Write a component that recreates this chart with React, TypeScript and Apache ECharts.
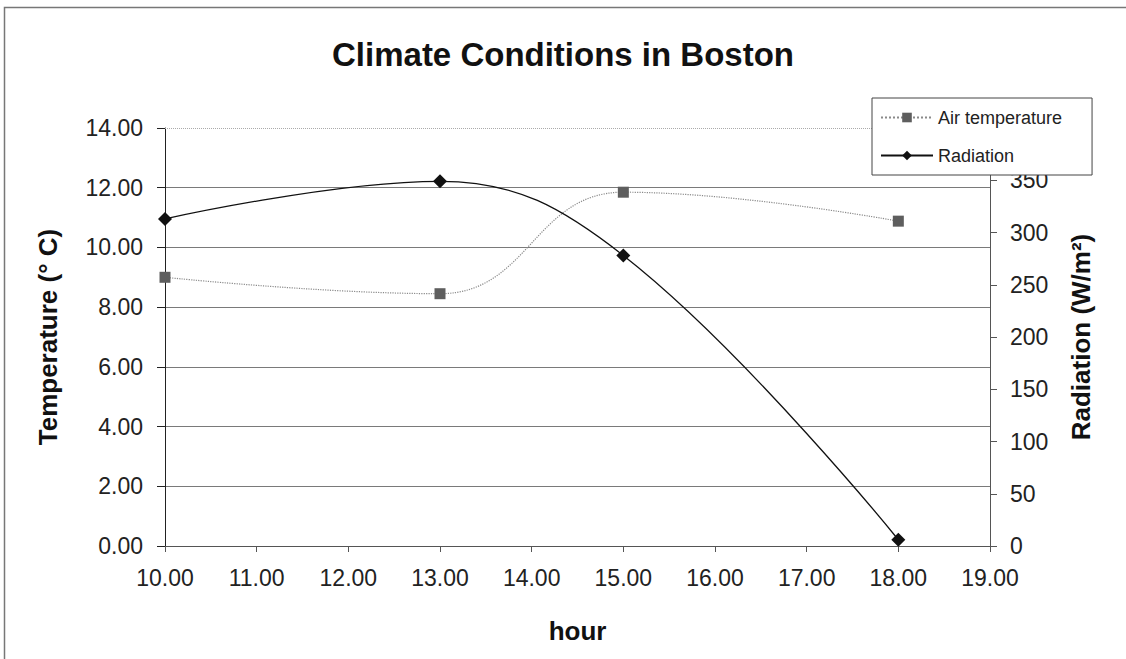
import React, { useEffect, useRef } from "react";
import * as echarts from "echarts";

const hours = [10, 13, 15, 18];
const airTemperature = [9.0, 8.45, 11.85, 10.88];
const radiation = [313, 349, 278, 6];

const xTicks = { min: 10, max: 19, interval: 1 };
const tempTicks = { min: 0, max: 14, interval: 2 };
const radTicks = { min: 0, max: 400, interval: 50 };

const FONT = "'Liberation Sans', Arial, sans-serif";

export default function App() {
  const ref = useRef<HTMLDivElement>(null);
  useEffect(() => {
    if (!ref.current) return;
    const chart = echarts.init(ref.current, undefined, { renderer: "svg" });
    const tempData = hours.map((h, i) => [h, airTemperature[i]]);
    const radData = hours.map((h, i) => [h, radiation[i]]);
    const gridCount = (tempTicks.max - tempTicks.min) / tempTicks.interval + 1;
    const splitColors = Array.from({ length: gridCount }, (_, i) =>
      i === gridCount - 1 ? "rgba(0,0,0,0)" : "#7a7a7a"
    );
    chart.setOption({
      animation: false,
      backgroundColor: "#ffffff",
      textStyle: { fontFamily: FONT },
      title: {
        text: "Climate Conditions in Boston",
        left: "center",
        top: 33,
        textStyle: { fontFamily: FONT, fontSize: 33, fontWeight: "bold", color: "#111" },
      },
      graphic: [
        {
          type: "rect",
          shape: { x: 4.5, y: 7.5, width: 1140, height: 670 },
          style: { fill: "none", stroke: "#777", lineWidth: 1.5 },
          silent: true,
        },
      ],
      legend: {
        orient: "vertical",
        left: 872,
        top: 98,
        itemWidth: 52,
        itemHeight: 12,
        itemGap: 17,
        padding: [9, 30, 9, 8],
        backgroundColor: "#ffffff",
        borderColor: "#444",
        borderWidth: 1,
        borderRadius: 0,
        z: 10,
        textStyle: { fontFamily: FONT, fontSize: 18, color: "#222", lineHeight: 21 },
        data: ["Air temperature", "Radiation"],
      },
      grid: { left: 165, right: 136, top: 128, bottom: 113 },
      xAxis: {
        type: "value",
        min: xTicks.min,
        max: xTicks.max,
        interval: xTicks.interval,
        name: "hour",
        nameLocation: "middle",
        nameGap: 72,
        nameTextStyle: { fontFamily: FONT, fontSize: 26, fontWeight: "bold", color: "#111" },
        axisLine: { show: true, onZero: false, lineStyle: { color: "#555", width: 1 } },
        axisTick: { show: true, inside: false, length: 6, lineStyle: { color: "#555" } },
        axisLabel: {
          margin: 20,
          fontFamily: FONT,
          fontSize: 23,
          color: "#222",
          formatter: (v: number) => v.toFixed(2),
        },
        splitLine: { show: false },
      },
      yAxis: [
        {
          type: "value",
          position: "left",
          min: tempTicks.min,
          max: tempTicks.max,
          interval: tempTicks.interval,
          name: "Temperature (° C)",
          nameLocation: "middle",
          nameGap: 104,
          nameTextStyle: { fontFamily: FONT, fontSize: 26, fontWeight: "bold", color: "#111" },
          axisLine: { show: true, lineStyle: { color: "#222", width: 1 } },
          axisTick: { show: true, inside: false, length: 8, lineStyle: { color: "#222" } },
          axisLabel: {
            margin: 22,
            fontFamily: FONT,
            fontSize: 23,
            color: "#222",
            formatter: (v: number) => v.toFixed(2),
          },
          splitLine: { show: true, lineStyle: { color: splitColors, width: 1 } },
        },
        {
          type: "value",
          position: "right",
          min: radTicks.min,
          max: radTicks.max,
          interval: radTicks.interval,
          name: "Radiation (W/m²)",
          nameLocation: "middle",
          nameGap: 78,
          nameTextStyle: { fontFamily: FONT, fontSize: 26, fontWeight: "bold", color: "#111" },
          axisLine: { show: true, lineStyle: { color: "#555", width: 1 } },
          axisTick: { show: true, inside: false, length: 7, lineStyle: { color: "#555" } },
          axisLabel: {
            margin: 20,
            fontFamily: FONT,
            fontSize: 23,
            color: "#222",
            showMaxLabel: false,
          },
          splitLine: { show: false },
        },
      ],
      series: [
        {
          name: "Air temperature",
          type: "line",
          yAxisIndex: 0,
          data: tempData,
          smooth: 0.45,
          symbol: "rect",
          symbolSize: 11,
          itemStyle: { color: "#5e5e5e" },
          lineStyle: { color: "#8a8a8a", width: 1.2, type: "dotted" },
          z: 3,
          markLine: {
            silent: true,
            symbol: "none",
            label: { show: false },
            lineStyle: { color: "#aaa", width: 1, type: "dotted" },
            data: [{ yAxis: tempTicks.max }],
          },
        },
        {
          name: "Radiation",
          type: "line",
          yAxisIndex: 1,
          data: radData,
          smooth: 0.4,
          symbol: "diamond",
          symbolSize: 14,
          itemStyle: { color: "#111" },
          lineStyle: { color: "#111", width: 1.3 },
          z: 4,
        },
      ],
    });
    return () => chart.dispose();
  }, []);
  return (
    <div
      ref={ref}
      style={{ position: "fixed", left: 0, top: 0, width: 1126, height: 659, background: "#fff" }}
    />
  );
}
